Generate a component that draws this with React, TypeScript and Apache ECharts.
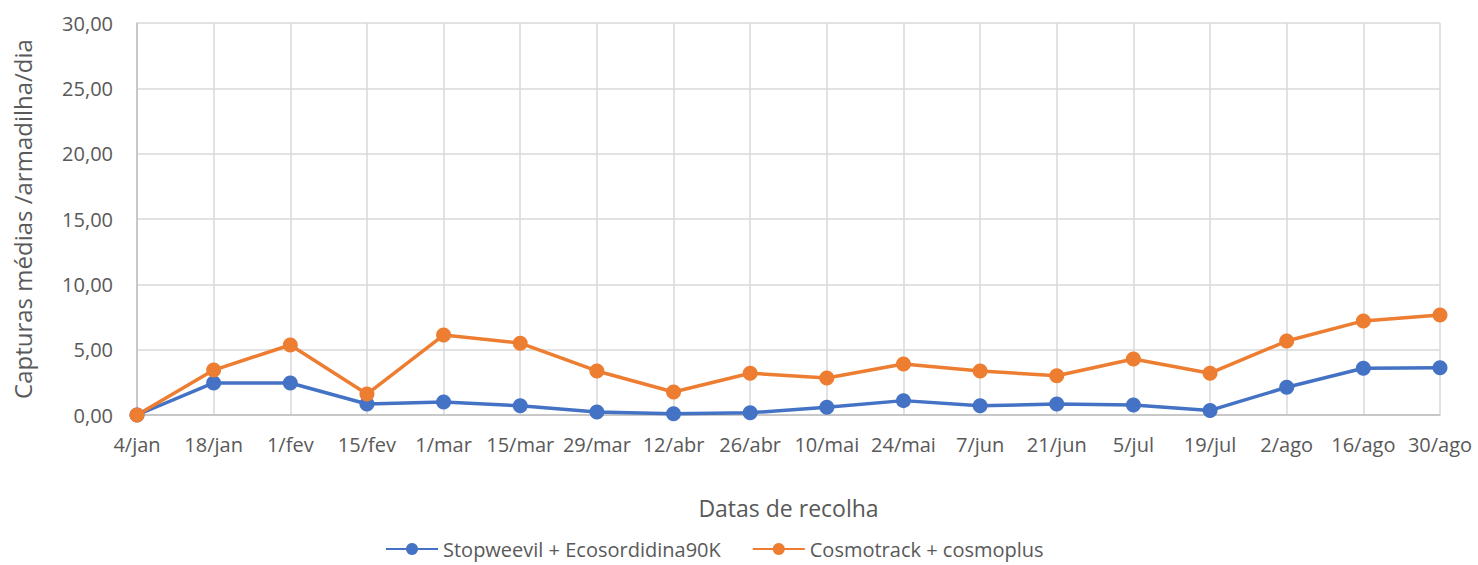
import React, { useEffect, useRef } from "react";
import * as echarts from "echarts";

const categories = ["4/jan", "18/jan", "1/fev", "15/fev", "1/mar", "15/mar", "29/mar", "12/abr", "26/abr", "10/mai", "24/mai", "7/jun", "21/jun", "5/jul", "19/jul", "2/ago", "16/ago", "30/ago"];
const stopweevil = [0, 2.45, 2.45, 0.84, 1.0, 0.7, 0.23, 0.1, 0.17, 0.6, 1.1, 0.7, 0.85, 0.77, 0.35, 2.12, 3.58, 3.62];
const cosmotrack = [0, 3.44, 5.36, 1.6, 6.12, 5.5, 3.37, 1.76, 3.2, 2.83, 3.9, 3.37, 3.0, 4.28, 3.2, 5.66, 7.2, 7.65];
const seriesNames = ["Stopweevil + Ecosordidina90K", "Cosmotrack + cosmoplus"];

const FONT = "'Open Sans', sans-serif";
const TXT = "#595959";

export default function App() {
  const ref = useRef<HTMLDivElement>(null);
  useEffect(() => {
    const chart = echarts.init(ref.current!, null, { renderer: "svg" });
    chart.setOption({
      animation: false,
      backgroundColor: "#ffffff",
      textStyle: { fontFamily: FONT, color: TXT },
      grid: { left: 137, right: 38, top: 23, bottom: 150 },
      legend: {
        bottom: 1,
        left: 380,
        itemWidth: 52,
        itemHeight: 15,
        itemGap: 31,
        textStyle: { fontFamily: FONT, fontSize: 20, color: TXT },
        data: seriesNames,
      },
      xAxis: {
        type: "category",
        data: categories,
        boundaryGap: false,
        name: "Datas de recolha",
        nameLocation: "middle",
        nameGap: 81,
        nameTextStyle: { fontFamily: FONT, fontSize: 23, color: TXT },
        axisLine: { lineStyle: { color: "#bfbfbf", width: 1.5 } },
        axisTick: { show: false },
        axisLabel: { fontFamily: FONT, fontSize: 20, color: TXT, margin: 19, interval: 0 },
        splitLine: { show: true, lineStyle: { color: "#d9d9d9", width: 1.5 } },
      },
      yAxis: {
        type: "value",
        min: 0,
        max: 30,
        interval: 5,
        name: "Capturas médias /armadilha/dia",
        nameLocation: "middle",
        nameGap: 103,
        nameTextStyle: { fontFamily: FONT, fontSize: 24, color: TXT },
        axisLine: { show: true, lineStyle: { color: "#bfbfbf", width: 1.5 } },
        axisTick: { show: false },
        axisLabel: {
          fontFamily: FONT,
          fontSize: 20,
          color: TXT,
          margin: 24,
          formatter: (v: number) => v.toFixed(2).replace(".", ","),
        },
        splitLine: { show: true, lineStyle: { color: "#d9d9d9", width: 1.5 } },
      },
      series: [
        {
          name: seriesNames[0],
          type: "line",
          data: stopweevil,
          color: "#4472C4",
          symbol: "circle",
          symbolSize: 15,
          lineStyle: { width: 3.5 },
        },
        {
          name: seriesNames[1],
          type: "line",
          data: cosmotrack,
          color: "#ED7D31",
          symbol: "circle",
          symbolSize: 15,
          lineStyle: { width: 3.5 },
        },
      ],
    });
    return () => chart.dispose();
  }, []);
  return <div ref={ref} style={{ position: "fixed", left: 0, top: 0, width: 1478, height: 565 }} />;
}
